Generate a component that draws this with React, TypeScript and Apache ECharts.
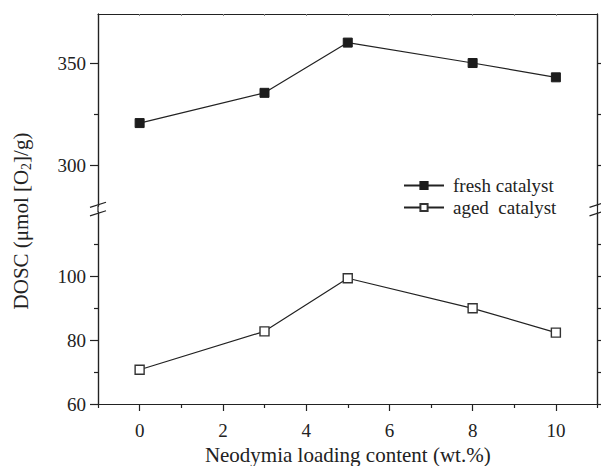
import React, { useEffect, useRef } from "react";
import * as echarts from "echarts";

// Neodymia loading (wt.%) and dynamic oxygen storage capacity (µmol O2/g)
const loading = [0, 3, 5, 8, 10];
const freshDosc = [320.6, 335.4, 360, 350, 343];
const agedDosc = [70.7, 82.7, 99.3, 89.9, 82.3];

const xMajorTicks = [0, 2, 4, 6, 8, 10];
const xMinorTicks = [-1, 1, 3, 5, 7, 9, 11];
const xTopTicks = [0, 1, 2, 3, 4, 5, 6, 7, 8, 9, 10];
const upperMajor = [300, 350];
const upperMinor = [325];
const lowerMajor = [60, 80, 100];
const lowerMinor = [70, 90, 110];

const INK = "#222";
const FONT = '"Liberation Serif", "Times New Roman", serif';

function yAxis(grid: number, side: "left" | "right", min: number, max: number, ticks: number[], len: number, labels: boolean) {
  return {
    type: "value",
    gridIndex: grid,
    position: side,
    min,
    max,
    axisLine: { show: true, onZero: false, lineStyle: { color: INK, width: 1.2 } },
    axisTick: { show: true, length: len, customValues: ticks, lineStyle: { color: INK, width: 1.2 } },
    axisLabel: labels
      ? { show: true, customValues: ticks, margin: 12, fontSize: 19, color: INK, fontFamily: FONT }
      : { show: false },
    splitLine: { show: false },
  };
}

export default function App() {
  const ref = useRef<HTMLDivElement>(null);

  useEffect(() => {
    if (!ref.current) return;
    const chart = echarts.init(ref.current, undefined, { renderer: "svg" });

    chart.setOption({
      animation: false,
      backgroundColor: "#fff",
      textStyle: { fontFamily: FONT, color: INK },
      grid: [
        { left: 98, top: 14, width: 499.5, height: 192 },
        { left: 98, top: 212, width: 499.5, height: 193 },
      ],
      legend: {
        orient: "vertical",
        left: 398,
        top: 170,
        itemWidth: 40,
        itemHeight: 9,
        itemGap: 1,
        data: ["fresh catalyst", "aged  catalyst"],
        textStyle: { fontSize: 19, color: INK, fontFamily: FONT, lineHeight: 21, padding: [0, 0, 0, 4] },
      },
      xAxis: [
        {
          type: "value",
          gridIndex: 0,
          position: "top",
          min: -1,
          max: 11,
          axisLine: { show: true, onZero: false, lineStyle: { color: INK, width: 1.2 } },
          axisTick: { show: true, inside: true, length: 2, customValues: xTopTicks, lineStyle: { color: "#888" } },
          axisLabel: { show: false },
          splitLine: { show: false },
        },
        {
          type: "value",
          gridIndex: 1,
          position: "bottom",
          min: -1,
          max: 11,
          axisLine: { show: true, onZero: false, lineStyle: { color: INK, width: 1.2 } },
          axisTick: { show: true, length: 7, customValues: xMajorTicks, lineStyle: { color: INK, width: 1.2 } },
          axisLabel: { show: true, customValues: xMajorTicks, margin: 17, fontSize: 19, color: INK, fontFamily: FONT },
          splitLine: { show: false },
          name: "Neodymia loading content (wt.%)",
          nameLocation: "middle",
          nameGap: 40,
          nameTextStyle: { fontSize: 21, color: INK, fontFamily: FONT },
        },
        {
          type: "value",
          gridIndex: 1,
          position: "bottom",
          min: -1,
          max: 11,
          axisLine: { show: false, onZero: false },
          axisTick: { show: true, length: 4, customValues: xMinorTicks, lineStyle: { color: INK, width: 1.2 } },
          axisLabel: { show: false },
          splitLine: { show: false },
        },
      ],
      yAxis: [
        yAxis(0, "left", 280, 374, upperMajor, 8, true),
        yAxis(0, "left", 280, 374, upperMinor, 4, false),
        yAxis(0, "right", 280, 374, upperMajor, 8, false),
        yAxis(0, "right", 280, 374, upperMinor, 4, false),
        yAxis(1, "left", 60, 120, lowerMajor, 8, true),
        yAxis(1, "left", 60, 120, lowerMinor, 4, false),
        yAxis(1, "right", 60, 120, lowerMajor, 8, false),
        yAxis(1, "right", 60, 120, lowerMinor, 4, false),
      ],
      series: [
        {
          name: "fresh catalyst",
          type: "line",
          xAxisIndex: 0,
          yAxisIndex: 0,
          data: loading.map((x, i) => [x, freshDosc[i]]),
          symbol: "rect",
          symbolSize: 9,
          itemStyle: { color: "#1c1c1c", borderColor: "#1c1c1c", borderWidth: 1 },
          lineStyle: { color: INK, width: 1.2 },
        },
        {
          name: "aged  catalyst",
          type: "line",
          xAxisIndex: 1,
          yAxisIndex: 4,
          data: loading.map((x, i) => [x, agedDosc[i]]),
          symbol: "rect",
          symbolSize: 9,
          itemStyle: { color: "#fff", borderColor: "#333", borderWidth: 1.4 },
          lineStyle: { color: INK, width: 1.2 },
        },
      ],
    });

    // Axis break: connect the two panels and mark the gap with slashes
    const ub = chart.convertToPixel({ gridIndex: 0 }, [-1, 280]) as number[];
    const ubr = chart.convertToPixel({ gridIndex: 0 }, [11, 280]) as number[];
    const lt = chart.convertToPixel({ gridIndex: 1 }, [-1, 120]) as number[];
    const lineStyle = { stroke: INK, lineWidth: 1.2 };
    const slash = (cx: number, cy: number) => ({
      type: "line",
      shape: { x1: cx - 8, y1: cy + 2.6, x2: cx + 8, y2: cy - 2.6 },
      style: lineStyle,
    });
    const graphics: any[] = [];
    for (const x of [ub[0], ubr[0]]) {
      graphics.push({ type: "line", shape: { x1: x, y1: ub[1], x2: x, y2: lt[1] }, style: lineStyle });
      graphics.push(slash(x, ub[1] - 1.2));
      graphics.push(slash(x, lt[1] + 1.3));
    }
    graphics.push({
      type: "text",
      x: 21,
      y: 221,
      rotation: Math.PI / 2,
      style: {
        text: "DOSC (μmol [O{sub|2}]/g)",
        fontSize: 21,
        fontFamily: FONT,
        fill: INK,
        align: "center",
        verticalAlign: "middle",
        lineHeight: 25,
        rich: {
          sub: { fontSize: 14, fontFamily: FONT, fill: INK, lineHeight: 12, verticalAlign: "bottom" },
        },
      },
    });
    chart.setOption({ graphic: graphics });

    return () => chart.dispose();
  }, []);

  return <div ref={ref} style={{ position: "fixed", left: 0, top: 0, width: 601, height: 466 }} />;
}
